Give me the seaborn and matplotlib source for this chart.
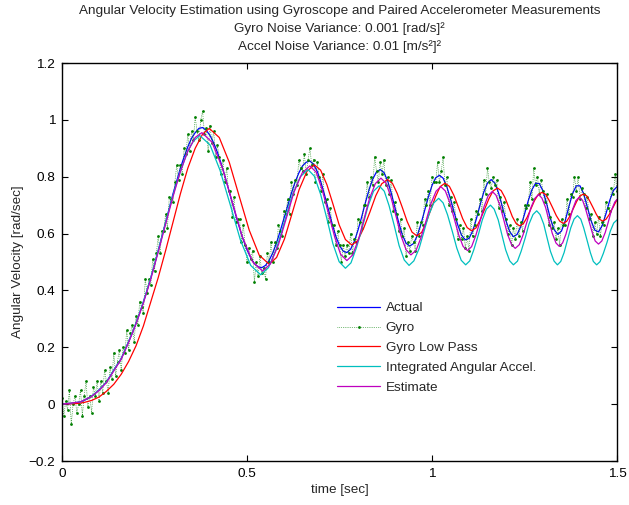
import numpy as np
import pandas as pd
import seaborn as sns
import matplotlib
matplotlib.use("Agg")
import matplotlib.pyplot as plt

# ---- data ----
# actual angular velocity, sampled every 0.01 s
actual_t = np.round(np.arange(0, 1.5001, 0.01), 2)
actual_v = [
    0.000, 0.000, 0.001, 0.003, 0.005, 0.008, 0.013, 0.020, 0.028, 0.038,
    0.050, 0.063, 0.078, 0.098, 0.120, 0.140, 0.160, 0.190, 0.220, 0.250,
    0.285, 0.320, 0.360, 0.400, 0.445, 0.490, 0.540, 0.590, 0.640, 0.690,
    0.740, 0.785, 0.830, 0.870, 0.905, 0.935, 0.955, 0.970, 0.973, 0.963,
    0.945, 0.919, 0.886, 0.847, 0.803, 0.757, 0.710, 0.663, 0.619, 0.578,
    0.543, 0.515, 0.494, 0.483, 0.480, 0.488, 0.506, 0.533, 0.568, 0.610,
    0.654, 0.699, 0.742, 0.781, 0.813, 0.838, 0.851, 0.855, 0.844, 0.818,
    0.780, 0.734, 0.684, 0.635, 0.591, 0.558, 0.538, 0.533, 0.545, 0.572,
    0.612, 0.659, 0.709, 0.755, 0.792, 0.817, 0.825, 0.815, 0.786, 0.742,
    0.691, 0.639, 0.595, 0.566, 0.556, 0.565, 0.592, 0.633, 0.681, 0.728,
    0.769, 0.796, 0.805, 0.795, 0.765, 0.722, 0.674, 0.629, 0.594, 0.578,
    0.583, 0.609, 0.652, 0.701, 0.746, 0.778, 0.790, 0.777, 0.743, 0.695,
    0.645, 0.607, 0.589, 0.597, 0.625, 0.668, 0.715, 0.754, 0.777, 0.776,
    0.750, 0.704, 0.653, 0.614, 0.597, 0.609, 0.645, 0.695, 0.741, 0.768,
    0.768, 0.740, 0.693, 0.645, 0.612, 0.606, 0.628, 0.669, 0.715, 0.751,
    0.765,
]

# noisy gyro samples, every 0.005 s
gyro_t = np.round(np.arange(0, 1.5001, 0.005), 3)
gyro_v = [
    0.02, -0.04, 0.01, -0.02, 0.05, -0.07, 0.00, 0.03, -0.03, 0.00,
    0.05, -0.04, 0.03, 0.08, -0.01, 0.03, -0.03, 0.06, 0.03, 0.08,
    0.01, 0.08, 0.04, 0.12, 0.08, 0.04, 0.13, 0.09, 0.18, 0.10,
    0.15, 0.19, 0.12, 0.20, 0.18, 0.26, 0.19, 0.25, 0.28, 0.22,
    0.31, 0.28, 0.36, 0.34, 0.32, 0.44, 0.39, 0.44, 0.42, 0.51,
    0.47, 0.53, 0.59, 0.53, 0.61, 0.61, 0.67, 0.62, 0.73, 0.72,
    0.71, 0.78, 0.84, 0.79, 0.84, 0.81, 0.90, 0.88, 0.95, 0.89,
    0.96, 0.93, 1.01, 0.96, 0.93, 1.00, 1.03, 0.95, 0.97, 0.89,
    0.98, 0.92, 0.96, 0.87, 0.91, 0.87, 0.81, 0.86, 0.78, 0.83,
    0.75, 0.75, 0.66, 0.73, 0.64, 0.65, 0.65, 0.57, 0.63, 0.56,
    0.50, 0.55, 0.51, 0.54, 0.43, 0.50, 0.45, 0.52, 0.46, 0.48,
    0.44, 0.53, 0.50, 0.57, 0.50, 0.57, 0.55, 0.63, 0.61, 0.59,
    0.68, 0.67, 0.72, 0.67, 0.78, 0.74, 0.79, 0.77, 0.86, 0.83,
    0.82, 0.88, 0.81, 0.86, 0.90, 0.84, 0.86, 0.78, 0.85, 0.80,
    0.75, 0.81, 0.71, 0.72, 0.64, 0.69, 0.63, 0.63, 0.56, 0.61,
    0.56, 0.50, 0.56, 0.52, 0.56, 0.53, 0.60, 0.53, 0.58, 0.57,
    0.65, 0.64, 0.62, 0.70, 0.70, 0.78, 0.73, 0.80, 0.77, 0.87,
    0.82, 0.78, 0.85, 0.81, 0.86, 0.77, 0.80, 0.74, 0.79, 0.68,
    0.71, 0.67, 0.61, 0.65, 0.59, 0.62, 0.52, 0.57, 0.54, 0.59,
    0.57, 0.54, 0.64, 0.59, 0.64, 0.63, 0.72, 0.70, 0.75, 0.70,
    0.80, 0.78, 0.78, 0.85, 0.78, 0.82, 0.87, 0.77, 0.80, 0.70,
    0.73, 0.68, 0.71, 0.65, 0.58, 0.63, 0.58, 0.62, 0.55, 0.59,
    0.54, 0.65, 0.59, 0.63, 0.68, 0.67, 0.72, 0.68, 0.79, 0.74,
    0.83, 0.78, 0.76, 0.80, 0.77, 0.79, 0.69, 0.73, 0.68, 0.71,
    0.65, 0.60, 0.63, 0.56, 0.62, 0.58, 0.65, 0.59, 0.64, 0.61,
    0.70, 0.69, 0.70, 0.78, 0.72, 0.83, 0.77, 0.80, 0.74, 0.79,
    0.75, 0.71, 0.74, 0.63, 0.66, 0.62, 0.64, 0.58, 0.62, 0.56,
    0.65, 0.63, 0.63, 0.72, 0.67, 0.74, 0.73, 0.80, 0.75, 0.80,
    0.72, 0.76, 0.74, 0.69, 0.73, 0.65, 0.67, 0.59, 0.64, 0.60,
    0.66, 0.59, 0.64, 0.63, 0.71, 0.69, 0.68, 0.76, 0.74, 0.81,
    0.75,
]

# gyro low pass (lags the actual signal)
lowpass_t = [0.0, 0.04, 0.06, 0.08, 0.10, 0.12, 0.14, 0.16, 0.18, 0.20, 0.22, 0.24,
             0.26, 0.28, 0.30, 0.32, 0.34, 0.36, 0.38, 0.398,
             0.425, 0.452, 0.479, 0.506, 0.533, 0.560,
             0.580, 0.601, 0.621, 0.641, 0.662, 0.682,
             0.699, 0.716, 0.733, 0.749, 0.766, 0.783,
             0.799, 0.815, 0.832, 0.848, 0.864, 0.880,
             0.893, 0.906, 0.920, 0.933, 0.946, 0.959,
             0.972, 0.984, 0.997, 1.010, 1.022, 1.035,
             1.047, 1.059, 1.071, 1.083, 1.095, 1.107,
             1.119, 1.130, 1.142, 1.154, 1.165, 1.177,
             1.187, 1.197, 1.207, 1.217, 1.227, 1.237,
             1.247, 1.257, 1.267, 1.277, 1.287, 1.297,
             1.307, 1.316, 1.326, 1.336, 1.345, 1.355,
             1.364, 1.373, 1.382, 1.391, 1.400, 1.409,
             1.418, 1.426, 1.435, 1.444, 1.452, 1.461,
             1.470, 1.479, 1.488, 1.497, 1.500]
lowpass_v = [0.0, 0.002, 0.006, 0.013, 0.025, 0.045, 0.070, 0.105, 0.150, 0.205, 0.275, 0.360,
             0.445, 0.540, 0.640, 0.740, 0.830, 0.900, 0.950, 0.970,
             0.938, 0.851, 0.731, 0.612, 0.524, 0.492,
             0.516, 0.580, 0.667, 0.755, 0.819, 0.842,
             0.823, 0.772, 0.701, 0.631, 0.579, 0.560,
             0.575, 0.618, 0.675, 0.733, 0.775, 0.790,
             0.777, 0.741, 0.691, 0.642, 0.605, 0.592,
             0.604, 0.638, 0.685, 0.731, 0.765, 0.777,
             0.766, 0.735, 0.694, 0.652, 0.621, 0.610,
             0.620, 0.648, 0.685, 0.723, 0.750, 0.760,
             0.751, 0.727, 0.694, 0.660, 0.636, 0.627,
             0.635, 0.657, 0.686, 0.716, 0.737, 0.745,
             0.738, 0.718, 0.691, 0.663, 0.644, 0.636,
             0.643, 0.662, 0.688, 0.713, 0.732, 0.739,
             0.733, 0.715, 0.692, 0.668, 0.651, 0.644,
             0.650, 0.667, 0.689, 0.712, 0.718]

# integrated angular acceleration (drifts low)
integ_t = [0.0, 0.05, 0.08, 0.10, 0.12, 0.14, 0.16, 0.18, 0.20, 0.22, 0.24, 0.26,
           0.28, 0.30, 0.32, 0.34, 0.355, 0.372,
           0.400, 0.427, 0.455, 0.482, 0.510, 0.537,
           0.558, 0.580, 0.601, 0.622, 0.644, 0.665,
           0.682, 0.699, 0.716, 0.732, 0.749, 0.766,
           0.781, 0.796, 0.812, 0.827, 0.842, 0.857,
           0.871, 0.884, 0.898, 0.911, 0.925, 0.938,
           0.951, 0.965, 0.978, 0.991, 1.005, 1.018,
           1.030, 1.042, 1.055, 1.067, 1.079, 1.091,
           1.102, 1.113, 1.125, 1.136, 1.147, 1.158,
           1.168, 1.179, 1.189, 1.199, 1.210, 1.220,
           1.231, 1.241, 1.252, 1.262, 1.273, 1.283,
           1.292, 1.302, 1.311, 1.320, 1.330, 1.339,
           1.348, 1.357, 1.366, 1.375, 1.384, 1.393,
           1.402, 1.410, 1.419, 1.428, 1.436, 1.445,
           1.454, 1.463, 1.473, 1.482, 1.491, 1.500]
integ_v = [0.0, 0.008, 0.028, 0.050, 0.078, 0.120, 0.160, 0.220, 0.285, 0.360, 0.445, 0.540,
           0.638, 0.735, 0.820, 0.890, 0.925, 0.945,
           0.912, 0.823, 0.700, 0.578, 0.488, 0.455,
           0.480, 0.548, 0.640, 0.733, 0.800, 0.825,
           0.802, 0.738, 0.652, 0.565, 0.501, 0.478,
           0.497, 0.551, 0.623, 0.696, 0.749, 0.768,
           0.749, 0.698, 0.628, 0.558, 0.507, 0.488,
           0.504, 0.547, 0.606, 0.665, 0.708, 0.724,
           0.708, 0.666, 0.607, 0.549, 0.506, 0.490,
           0.504, 0.543, 0.595, 0.648, 0.686, 0.700,
           0.686, 0.648, 0.595, 0.543, 0.504, 0.490,
           0.503, 0.538, 0.585, 0.633, 0.667, 0.680,
           0.667, 0.633, 0.585, 0.538, 0.503, 0.490,
           0.502, 0.533, 0.577, 0.620, 0.651, 0.663,
           0.651, 0.620, 0.577, 0.533, 0.502, 0.490,
           0.501, 0.530, 0.569, 0.609, 0.637, 0.648]

# estimate
est_t = [0.0, 0.05, 0.08, 0.10, 0.12, 0.14, 0.16, 0.18, 0.20, 0.22, 0.24, 0.26,
         0.28, 0.30, 0.32, 0.34, 0.36, 0.378,
         0.405, 0.433, 0.460, 0.487, 0.515, 0.542,
         0.563, 0.585, 0.606, 0.627, 0.649, 0.670,
         0.687, 0.703, 0.720, 0.737, 0.753, 0.770,
         0.785, 0.801, 0.816, 0.831, 0.847, 0.862,
         0.876, 0.889, 0.903, 0.916, 0.930, 0.943,
         0.957, 0.970, 0.984, 0.997, 1.011, 1.024,
         1.036, 1.048, 1.060, 1.072, 1.084, 1.096,
         1.107, 1.118, 1.130, 1.141, 1.152, 1.163,
         1.173, 1.184, 1.194, 1.204, 1.215, 1.225,
         1.236, 1.246, 1.257, 1.267, 1.278, 1.288,
         1.297, 1.307, 1.316, 1.325, 1.335, 1.344,
         1.353, 1.362, 1.371, 1.380, 1.389, 1.398,
         1.407, 1.415, 1.424, 1.433, 1.441, 1.450,
         1.459, 1.468, 1.477, 1.485, 1.494, 1.500]
est_v = [0.0, 0.008, 0.027, 0.048, 0.076, 0.117, 0.158, 0.217, 0.282, 0.356, 0.440, 0.535,
         0.633, 0.730, 0.818, 0.890, 0.938, 0.955,
         0.922, 0.833, 0.712, 0.590, 0.501, 0.468,
         0.493, 0.561, 0.653, 0.746, 0.813, 0.838,
         0.816, 0.755, 0.672, 0.588, 0.527, 0.505,
         0.524, 0.578, 0.650, 0.723, 0.776, 0.795,
         0.777, 0.728, 0.660, 0.593, 0.543, 0.525,
         0.541, 0.585, 0.645, 0.705, 0.749, 0.765,
         0.750, 0.709, 0.653, 0.596, 0.555, 0.540,
         0.554, 0.592, 0.644, 0.696, 0.734, 0.748,
         0.735, 0.698, 0.648, 0.598, 0.561, 0.548,
         0.561, 0.595, 0.643, 0.690, 0.724, 0.737,
         0.725, 0.692, 0.646, 0.601, 0.567, 0.555,
         0.567, 0.598, 0.642, 0.685, 0.716, 0.728,
         0.717, 0.687, 0.646, 0.604, 0.574, 0.563,
         0.574, 0.603, 0.643, 0.682, 0.711, 0.720]

labels = ["Actual", "Gyro", "Gyro Low Pass", "Integrated Angular Accel.", "Estimate"]
colors = ["#0000FF", "#007F00", "#FF0000", "#00BFBF", "#BF00BF"]

title_lines = ["Angular Velocity Estimation using Gyroscope and Paired Accelerometer Measurements",
               "Gyro Noise Variance: 0.001 [rad/s]\u00b2",
               "Accel Noise Variance: 0.01 [m/s\u00b2]\u00b2"]

# ---- plot ----
sns.set_style("ticks")
plt.rcParams["font.family"] = ["Liberation Sans", "DejaVu Sans"]
plt.rcParams["axes.unicode_minus"] = True
plt.rcParams["xtick.direction"] = "in"
plt.rcParams["ytick.direction"] = "in"
plt.rcParams["xtick.top"] = True
plt.rcParams["ytick.right"] = True

W, H = 629, 505
fig = plt.figure(figsize=(W / 100, H / 100), dpi=100)
ax = fig.add_axes([62 / W, 44 / H, 555 / W, 398 / H])

fs = 9.7
lw = 0.9
sns.lineplot(x=actual_t, y=actual_v, color=colors[0], lw=lw, label=labels[0], ax=ax)
sns.lineplot(x=gyro_t, y=gyro_v, color=colors[1], lw=0.5, linestyle=":", marker=".",
             markersize=4.0, markeredgewidth=0, label=labels[1], ax=ax)
sns.lineplot(x=lowpass_t, y=lowpass_v, color=colors[2], lw=lw, label=labels[2], ax=ax)
sns.lineplot(x=integ_t, y=integ_v, color=colors[3], lw=lw, label=labels[3], ax=ax)
sns.lineplot(x=est_t, y=est_v, color=colors[4], lw=lw, label=labels[4], ax=ax)

ax.set_xlim(0, 1.5)
ax.set_ylim(-0.2, 1.2)
ax.set_xticks([0, 0.5, 1, 1.5])
ax.set_xticklabels(["0", "0.5", "1", "1.5"])
ax.set_yticks(np.round(np.arange(-0.2, 1.21, 0.2), 1))
ax.set_yticklabels(["\u22120.2", "0", "0.2", "0.4", "0.6", "0.8", "1", "1.2"])
ax.tick_params(labelsize=fs, length=4, width=0.8, colors="black", pad=5)
for s in ax.spines.values():
    s.set_linewidth(1.0)
    s.set_color("black")

ax.set_xlabel("time [sec]", fontsize=fs, labelpad=3)
ax.set_ylabel("Angular Velocity [rad/sec]", fontsize=fs, labelpad=3)
for i, line in enumerate(title_lines):
    fig.text((62 + 555 / 2) / W, 1 - (14 + 18 * i) / H, line, fontsize=fs,
             ha="center", va="baseline")

ax.legend(loc="upper left", bbox_to_anchor=(337 / W, 1 - 302 / H),
          bbox_transform=fig.transFigure, frameon=False, fontsize=fs,
          handlelength=3.2, handletextpad=0.4, labelspacing=0.55,
          borderpad=0, borderaxespad=0, numpoints=1)

fig.savefig("out.png", dpi=100)
